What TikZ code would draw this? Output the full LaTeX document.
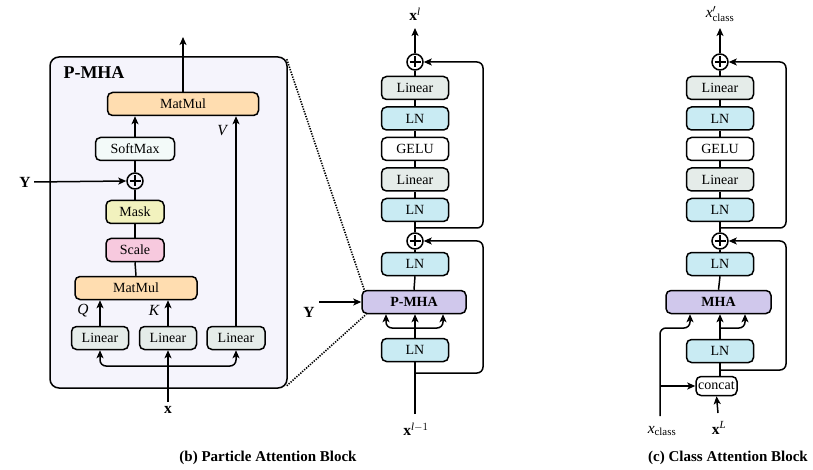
\documentclass[tikz,border=0pt]{standalone}
\usepackage{fontspec}
\setmainfont{Liberation Serif}
\usetikzlibrary{arrows.meta,shapes.misc}
\definecolor{panelbg}{HTML}{F5F4FC}
\definecolor{cmatmul}{HTML}{FFDDB0}
\definecolor{csoft}{HTML}{F3FAF9}
\definecolor{cmask}{HTML}{F2F2BE}
\definecolor{cscale}{HTML}{F7C9DE}
\definecolor{clin}{HTML}{E5ECE9}
\definecolor{cln}{HTML}{C9EBF3}
\definecolor{cmha}{HTML}{D0C8EC}
\tikzset{
  blk/.style={draw, line width=1.5pt, rounded corners=5pt, minimum height=23pt, inner sep=0pt,
    font=\fontsize{14}{16}\selectfont},
  arr/.style={-{Stealth[length=8pt,width=7pt,inset=2pt]}, line width=1.5pt},
  ln/.style={line width=1.5pt},
  oplus/.style={draw, circle, line width=1.5pt, minimum size=16pt, inner sep=0pt,
    path picture={\draw[line width=1.3pt] ([yshift=-2.5pt]path picture bounding box.north) -- ([yshift=2.5pt]path picture bounding box.south)
      ([xshift=2.5pt]path picture bounding box.west) -- ([xshift=-2.5pt]path picture bounding box.east);}},
  lbl/.style={font=\fontsize{15.5}{17}\selectfont},
  captext/.style={font=\fontsize{15}{17}\selectfont\bfseries}
}
\begin{document}
\begin{tikzpicture}[x=1pt,y=-1pt]
\useasboundingbox (0,0) rectangle (813,470);
% ---------- Left panel (P-MHA detail) ----------
\node[draw, line width=1.5pt, rounded corners=9pt, fill=panelbg, minimum width=237pt, minimum height=331pt, inner sep=0pt] (panel) at (168.5,222.5) {};
\node[font=\fontsize{18}{20}\selectfont\bfseries] (ptitle) at (94,73) {P-MHA};
\node[blk, fill=cmatmul, minimum width=151pt] (mmA) at (183,104) {MatMul};
\node[blk, fill=csoft, minimum width=79pt] (soft) at (135,149) {SoftMax};
\node[oplus] (pL) at (135,181) {};
\node[blk, fill=cmask, minimum width=58pt] (mask) at (135,212) {Mask};
\node[blk, fill=cscale, minimum width=58pt] (scale) at (135,250) {Scale};
\node[blk, fill=cmatmul, minimum width=122pt] (mmB) at (136,288) {MatMul};
\node[blk, fill=clin, minimum width=57pt] (linQ) at (100,338) {Linear};
\node[blk, fill=clin, minimum width=57pt] (linK) at (168,338) {Linear};
\node[blk, fill=clin, minimum width=58pt] (linV) at (236,338) {Linear};
\node[lbl] (qlab) at (83,311) {$\mathit{Q}$};
\node[lbl] (klab) at (154,310) {$\mathit{K}$};
\node[lbl] (vlab) at (222,131) {$\mathit{V}$};
\node[lbl] (ylabL) at (25,182) {$\mathbf{Y}$};
\node[lbl] (xlabL) at (168,410) {$\mathbf{x}$};
\coordinate (outL) at (183,37);
\coordinate (xinL) at (168,402);
\coordinate (splitL) at (168,366);
\draw[arr] (mmA.north) -- (outL);
\draw[arr] (soft.north) -- (soft.north |- mmA.south);
\draw[ln] (pL.north) -- (soft.south);
\draw[arr] (ylabL.east) -- (pL.west);
\draw[ln] (mask.north) -- (pL.south);
\draw[ln] (scale.north) -- (mask.south);
\draw[ln] (mmB.north) -- (scale.south);
\draw[arr] (linQ.north) -- (linQ.north |- mmB.south);
\draw[arr] (linK.north) -- (linK.north |- mmB.south);
\draw[arr] (linV.north) -- (linV.north |- mmA.south);
\draw[arr] (xinL) -- (linK.south);
\draw[arr, rounded corners=6pt] (splitL) -| (linQ.south);
\draw[arr, rounded corners=6pt] (splitL) -| (linV.south);
% ---------- Middle column (Particle Attention Block) ----------
\node[oplus] (pa2) at (415,62) {};
\node[blk, fill=clin, minimum width=67pt] (mlin1) at (415,88) {Linear};
\node[blk, fill=cln, minimum width=67pt] (mln1) at (415,118.5) {LN};
\node[blk, fill=white, minimum width=67pt] (mgelu) at (415,149) {GELU};
\node[blk, fill=clin, minimum width=67pt] (mlin2) at (415,179.5) {Linear};
\node[blk, fill=cln, minimum width=67pt] (mln2) at (415,210) {LN};
\node[oplus] (pa1) at (415,241) {};
\node[blk, fill=cln, minimum width=67pt] (mln3) at (415,264) {LN};
\node[blk, fill=cmha, minimum width=104pt, font=\fontsize{14}{16}\selectfont\bfseries] (pmha) at (414,302) {P-MHA};
\node[blk, fill=cln, minimum width=67pt] (mln4) at (415,350) {LN};
\node[lbl] (xlout) at (415,14) {$\mathbf{x}^{\mathit{l}}$};
\node[lbl] (xlin) at (416,429) {$\mathbf{x}^{\mathit{l}-1}$};
\node[lbl] (ylabM) at (309,312) {$\mathbf{Y}$};
\coordinate (mtop) at (415,28);
\coordinate (mbot) at (415,414);
\coordinate (mres1) at (415,373);
\coordinate (mres1r) at (483,373);
\coordinate (mres2) at (415,228);
\coordinate (mres2r) at (483,228);
\coordinate (msplit) at (415,328);
\coordinate (myin) at (319,302);
\draw[arr] (pa2.north) -- (mtop);
\draw[ln] (mlin1.north) -- (pa2.south);
\draw[ln] (mln1.north) -- (mlin1.south);
\draw[ln] (mgelu.north) -- (mln1.south);
\draw[ln] (mlin2.north) -- (mgelu.south);
\draw[ln] (mln2.north) -- (mlin2.south);
\draw[ln] (pa1.north) -- (mln2.south);
\draw[ln] (mln3.north) -- (pa1.south);
\draw[ln] (pmha.north) -- (mln3.south);
\draw[arr] (mln4.north) -- (mln4.north |- pmha.south);
\draw[arr, rounded corners=6pt] (msplit) -| ([xshift=-28pt]pmha.south);
\draw[arr, rounded corners=6pt] (msplit) -| ([xshift=29pt]pmha.south);
\draw[ln] (mbot) -- (mln4.south);
\draw[arr, rounded corners=6pt] (mres1) -- (mres1r) |- (pa1.east);
\draw[arr, rounded corners=6pt] (mres2) -- (mres2r) |- (pa2.east);
\draw[arr] (myin) -- (pmha.west);
% dotted zoom lines
\draw[line width=1.6pt, dash pattern=on 1.3pt off 1.3pt] (panel.north east) ++(-1,3) -- ([xshift=3pt]pmha.north west);
\draw[line width=1.6pt, dash pattern=on 1.3pt off 1.3pt] (panel.south east) ++(-1,-3) -- ([xshift=5pt]pmha.south west);
% ---------- Right column (Class Attention Block) ----------
\node[oplus] (pb2) at (720,62) {};
\node[blk, fill=clin, minimum width=67pt] (rlin1) at (720,88) {Linear};
\node[blk, fill=cln, minimum width=67pt] (rln1) at (720,118.5) {LN};
\node[blk, fill=white, minimum width=67pt] (rgelu) at (720,149) {GELU};
\node[blk, fill=clin, minimum width=67pt] (rlin2) at (720,179.5) {Linear};
\node[blk, fill=cln, minimum width=67pt] (rln2) at (720,210) {LN};
\node[oplus] (pb1) at (720,241) {};
\node[blk, fill=cln, minimum width=67pt] (rln3) at (720,264) {LN};
\node[blk, fill=cmha, minimum width=105pt, font=\fontsize{14}{16}\selectfont\bfseries] (mha) at (718.5,302) {MHA};
\node[blk, fill=cln, minimum width=67pt] (rln4) at (720,351) {LN};
\node[blk, fill=white, minimum width=41pt, minimum height=19pt, rounded corners=5pt] (concat) at (716.5,386) {concat};
\node[lbl] (xcout) at (720,14) {$\mathit{x}'_{\mathrm{class}}$};
\node[lbl] (xcin) at (662,431) {$\mathit{x}_{\mathrm{class}}$};
\node[lbl] (xLin) at (719,428) {$\mathbf{x}^{\mathit{L}}$};
\coordinate (rtop) at (720,28);
\coordinate (rbot) at (718,413);
\coordinate (rres1) at (720,370);
\coordinate (rres1r) at (786,370);
\coordinate (rres2) at (720,228);
\coordinate (rres2r) at (786,228);
\coordinate (rsplit) at (720,328);
\coordinate (xcbot) at (660,416);
\coordinate (xcturn) at (660,328);
\coordinate (xcsplit) at (660,386);
\draw[arr] (pb2.north) -- (rtop);
\draw[ln] (rlin1.north) -- (pb2.south);
\draw[ln] (rln1.north) -- (rlin1.south);
\draw[ln] (rgelu.north) -- (rln1.south);
\draw[ln] (rlin2.north) -- (rgelu.south);
\draw[ln] (rln2.north) -- (rlin2.south);
\draw[ln] (pb1.north) -- (rln2.south);
\draw[ln] (rln3.north) -- (pb1.south);
\draw[ln] (mha.north) -- (rln3.south);
\draw[arr] (rln4.north) -- (rln4.north |- mha.south);
\draw[arr, rounded corners=6pt] (rsplit) -| ([xshift=26.5pt]mha.south);
\draw[ln] (concat.north -| rln4.south) -- (rln4.south);
\draw[arr] (rbot) -- (concat.south);
\draw[arr, rounded corners=6pt] (rres1) -- (rres1r) |- (pb1.east);
\draw[arr, rounded corners=6pt] (rres2) -- (rres2r) |- (pb2.east);
\draw[arr, rounded corners=6pt] (xcbot) -- (xcturn) -| ([xshift=-28.5pt]mha.south);
\draw[arr] (xcsplit) -- (concat.west);
% ---------- Captions ----------
\node[captext] (capb) at (268,458) {(b) Particle Attention Block};
\node[captext] (capc) at (728,458) {(c) Class Attention Block};
\end{tikzpicture}
\end{document}
